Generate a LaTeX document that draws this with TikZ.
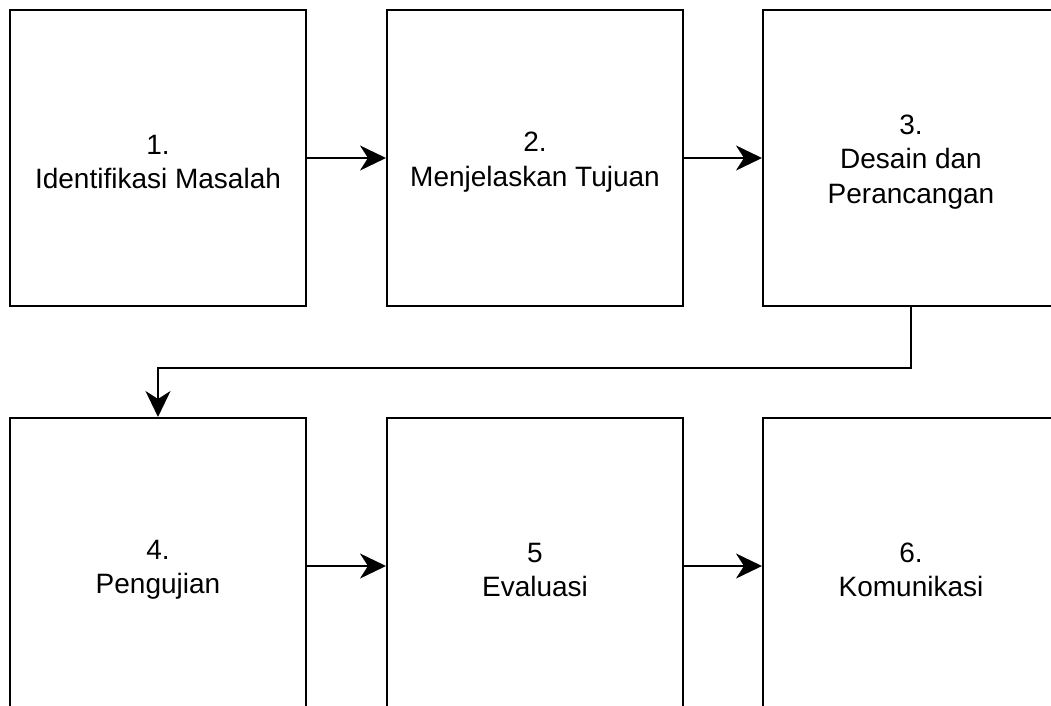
\documentclass[tikz,border=0pt]{standalone}
\usepackage{fontspec}
\setmainfont{Liberation Sans}
\usetikzlibrary{arrows.meta}
\begin{document}
\begin{tikzpicture}[x=1pt,y=-1pt,
  stepbox/.style={draw=black,line width=2pt,minimum width=296pt,minimum height=296pt,inner sep=0pt},
  steptext/.style={align=center,inner sep=0pt,yshift=-4pt,font=\fontsize{28}{34.5}\selectfont},
  conn/.style={draw=black,line width=2pt,-{Stealth[length=26pt,width=25pt,inset=8pt]}}]
\useasboundingbox (0,0) rectangle (1051,706);
\clip (0,0) rectangle (1051,706);
\fill[white] (0,0) rectangle (1051,706);
\node[stepbox,label={[steptext]center:1.\\Identifikasi Masalah}] (b1) at (158,158) {};
\node[stepbox,label={[steptext]center:2.\\Menjelaskan Tujuan}] (b2) at (535,158) {};
\node[stepbox,label={[steptext]center:3.\\Desain dan\\Perancangan}] (b3) at (911,158) {};
\node[stepbox,label={[steptext]center:4.\\Pengujian}] (b4) at (158,566) {};
\node[stepbox,label={[steptext]center:5\\Evaluasi}] (b5) at (535,566) {};
\node[stepbox,label={[steptext]center:6.\\Komunikasi}] (b6) at (911,566) {};
\coordinate (t1) at (911,368);
\coordinate (t2) at (158,368);
\draw[conn] (b1.east) -- (b2.west);
\draw[conn] (b2.east) -- (b3.west);
\draw[conn] (b3.south) -- (t1) -- (t2) -- (b4.north);
\draw[conn] (b4.east) -- (b5.west);
\draw[conn] (b5.east) -- (b6.west);
\end{tikzpicture}
\end{document}
